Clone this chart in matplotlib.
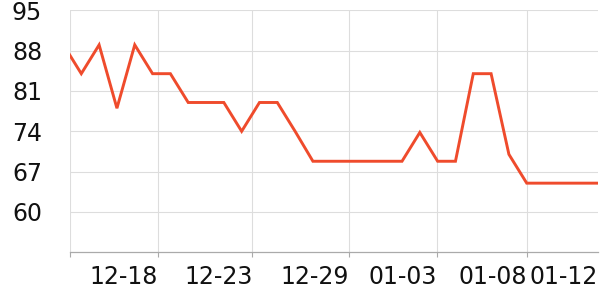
import matplotlib
matplotlib.use("Agg")
import matplotlib.pyplot as plt

dates = ["12-13", "12-14", "12-15", "12-16", "12-17", "12-18", "12-19", "12-20",
         "12-21", "12-22", "12-23", "12-24", "12-25", "12-26", "12-27", "12-28",
         "12-29", "12-30", "12-31", "01-01", "01-02", "01-03", "01-04", "01-05",
         "01-06", "01-07", "01-08", "01-09", "01-10", "01-11", "01-12"]
values = [89, 84, 89, 78, 89, 84, 84, 79, 79, 79, 74, 79, 79, 74, 68.8, 68.8,
          68.8, 68.8, 68.8, 68.8, 73.8, 68.8, 68.8, 84, 84, 70, 65, 65, 65, 65, 65]

y_ticks = [60, 67, 74, 81, 88, 95]
x_tick_labels = ["", "12-18", "12-23", "12-29", "01-03", "01-08"]
x_tick_pos = [0.366, 5.32, 10.6, 16.04, 20.98, 25.99]
last_label = "01-12"

x = list(range(len(dates)))

fig = plt.figure(figsize=(6, 3), dpi=100)
ax = fig.add_axes([70 / 600, 1 - 252.3 / 300, 528 / 600, 242 / 300])

ax.plot(x, values, color="#ef4b2c", lw=2.1, solid_joinstyle="miter", zorder=3)

ax.set_xlim(0.366, 30)
ax.set_ylim(53, 95)

ax.set_yticks(y_ticks)
ax.set_yticklabels([str(v) for v in y_ticks])
ax.set_xticks(x_tick_pos)
ax.set_xticklabels(x_tick_labels, ha="right")

ax.grid(True, color="#dddddd", lw=0.8)
ax.set_axisbelow(True)
for s in ["top", "right", "left"]:
    ax.spines[s].set_visible(False)
ax.spines["bottom"].set_color("#aaaaaa")
ax.spines["bottom"].set_linewidth(0.9)

ax.tick_params(axis="y", length=0, pad=20, labelsize=17, labelcolor="#111111")
ax.tick_params(axis="x", length=3.5, width=0.8, color="#aaaaaa", pad=6,
               labelsize=17, labelcolor="#111111")

# last label aligned to right end of axis
ax.annotate(last_label, xy=(30, 53), xycoords="data", xytext=(0, -9.5),
            textcoords="offset points", ha="right", va="top", fontsize=17,
            color="#111111", annotation_clip=False)

fig.savefig("out.png", dpi=100)
